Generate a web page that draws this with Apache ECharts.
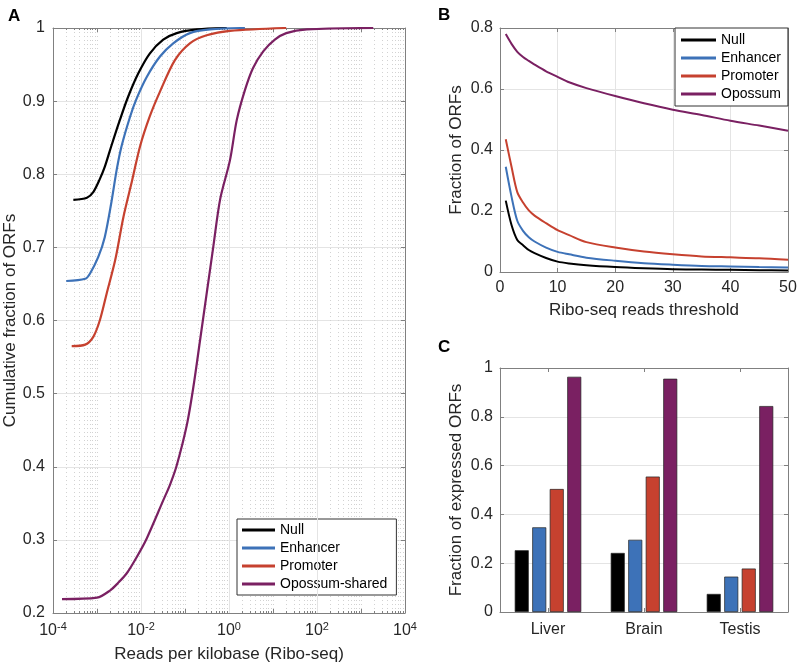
<!DOCTYPE html>
<html>
<head>
<meta charset="utf-8">
<script src="https://cdn.jsdelivr.net/npm/echarts@6/dist/echarts.min.js"></script>
<style>html,body{margin:0;padding:0;background:#fff}#c{width:800px;height:668px}</style>
</head>
<body>
<div id="c"></div>
<script>
// ---------- Panel A: cumulative distributions (Reads per kilobase, log x) ----------
const cdfNullX = [2.9e-4, 5.9e-4, 8.3e-4, 1.17e-3, 1.5e-3, 2.1e-3, 3.3e-3, 5.1e-3, 8.7e-3, 0.0158, 0.032, 0.065, 0.19, 0.89];
const cdfNullY = [0.765, 0.768, 0.776, 0.794, 0.810, 0.838, 0.874, 0.906, 0.938, 0.965, 0.984, 0.993, 0.998, 1.0];
const cdfEnhX = [2.0e-4, 5.4e-4, 6.9e-4, 1.07e-3, 1.5e-3, 2.1e-3, 2.8e-3, 3.6e-3, 5.6e-3, 7.9e-3, 0.0135, 0.027, 0.054, 0.129, 0.37, 2.3];
const cdfEnhY = [0.654, 0.657, 0.664, 0.687, 0.714, 0.760, 0.806, 0.838, 0.878, 0.903, 0.933, 0.961, 0.979, 0.993, 0.998, 1.0];
const cdfPromX = [2.66e-4, 5.4e-4, 8.3e-4, 1.17e-3, 1.66e-3, 2.6e-3, 4.0e-3, 6.2e-3, 9.5e-3, 0.0158, 0.027, 0.059, 0.129, 0.31, 1.05, 20];
const cdfPromY = [0.565, 0.567, 0.578, 0.601, 0.637, 0.683, 0.742, 0.790, 0.838, 0.879, 0.913, 0.956, 0.979, 0.990, 0.996, 1.0];
const cdfOpoX = [1.6e-4, 1.0e-3, 2.0e-3, 3.0e-3, 4.7e-3, 7.9e-3, 0.0135, 0.032, 0.046, 0.065, 0.11, 0.155, 0.22, 0.44, 0.63, 1.05, 1.5, 2.3, 3.5, 6.0, 11, 20, 59, 1900];
const cdfOpoY = [0.219, 0.221, 0.231, 0.241, 0.254, 0.276, 0.302, 0.354, 0.376, 0.402, 0.457, 0.509, 0.573, 0.701, 0.766, 0.819, 0.874, 0.915, 0.945, 0.968, 0.984, 0.993, 0.998, 1.0];
const legendA = ['Null', 'Enhancer', 'Promoter', 'Opossum-shared'];

// ---------- Panel B: fraction of ORFs vs reads threshold ----------
const thresholds = [1, 2, 3, 4, 5, 6, 8, 10, 12, 15, 20, 25, 30, 35, 40, 45, 50];
const fracNull = [0.234, 0.154, 0.105, 0.088, 0.072, 0.062, 0.046, 0.034, 0.028, 0.022, 0.016, 0.012, 0.009, 0.008, 0.007, 0.006, 0.005];
const fracEnh  = [0.345, 0.247, 0.168, 0.135, 0.114, 0.100, 0.080, 0.066, 0.058, 0.047, 0.037, 0.029, 0.024, 0.020, 0.018, 0.016, 0.015];
const fracProm = [0.435, 0.345, 0.262, 0.228, 0.202, 0.185, 0.160, 0.137, 0.121, 0.098, 0.080, 0.067, 0.058, 0.051, 0.048, 0.045, 0.040];
const fracOpo  = [0.780, 0.748, 0.722, 0.705, 0.692, 0.680, 0.658, 0.640, 0.622, 0.603, 0.577, 0.553, 0.532, 0.515, 0.496, 0.480, 0.463];
const legendB = ['Null', 'Enhancer', 'Promoter', 'Opossum'];

// ---------- Panel C: fraction of expressed ORFs per tissue ----------
const tissues = ['Liver', 'Brain', 'Testis'];
const exprNull = [0.253, 0.242, 0.074];
const exprEnh  = [0.347, 0.296, 0.145];
const exprProm = [0.504, 0.555, 0.178];
const exprOpo  = [0.964, 0.956, 0.844];

// ---------- styling ----------
const FONT = "'Liberation Sans', Arial, Helvetica, sans-serif";
const C_NULL = '#000000', C_ENH = '#3d72b8', C_PROM = '#c6412f', C_OPO = '#7a2062';
const AXIS = '#808080', TXT = '#262626', GRID = '#e4e4e4', MINOR = '#d2d2d2';

function zip(xs, ys) { return xs.map((x, i) => [x, ys[i]]); }
function fmtDec(v) { return (Math.abs(v) < 1e-9) ? '0' : (Math.abs(v - 1) < 1e-9 ? '1' : v.toFixed(1)); }

const tickLbl = { fontFamily: FONT, fontSize: 16, color: TXT };
const nameTxt = { fontFamily: FONT, fontSize: 17, color: TXT };

function boxAxis(extra) {
  return Object.assign({
    axisLine: { show: true, onZero: false, lineStyle: { color: AXIS, width: 1 } },
    axisTick: { show: true, inside: true, length: 4, lineStyle: { color: AXIS } },
    axisLabel: { show: false },
    splitLine: { show: false }
  }, extra);
}

const chart = echarts.init(document.getElementById('c'), null, { renderer: 'canvas' });

const lineA = (name, xs, ys, color) => ({
  type: 'line', name: name, xAxisIndex: 0, yAxisIndex: 0, data: zip(xs, ys),
  showSymbol: false, symbol: 'none', smooth: 0.3,
  lineStyle: { color: color, width: 2.2 }, itemStyle: { color: color }, z: 5
});
const lineB = (name, ys, color) => ({
  type: 'line', name: name, xAxisIndex: 2, yAxisIndex: 2, data: zip(thresholds, ys),
  showSymbol: false, symbol: 'none', smooth: 0.3,
  lineStyle: { color: color, width: 2 }, itemStyle: { color: color }, z: 5
});
const barC = (name, ys, color) => ({
  type: 'bar', name: name, xAxisIndex: 4, yAxisIndex: 4, data: ys, barWidth: 14, barGap: '25%',
  itemStyle: { color: color, borderColor: '#222', borderWidth: 0.7 }
});

const option = {
  animation: false,
  backgroundColor: '#fff',
  textStyle: { fontFamily: FONT },
  title: [
    { text: 'A', left: 3, top: 3, textStyle: { fontFamily: FONT, fontSize: 17, fontWeight: 'bold', color: '#000' } },
    { text: 'B', left: 433, top: 2, textStyle: { fontFamily: FONT, fontSize: 17, fontWeight: 'bold', color: '#000' } },
    { text: 'C', left: 433, top: 334, textStyle: { fontFamily: FONT, fontSize: 17, fontWeight: 'bold', color: '#000' } }
  ],
  grid: [
    { left: 53, top: 28, width: 352, height: 585, containLabel: false },
    { left: 500, top: 28, width: 288, height: 244, containLabel: false },
    { left: 500, top: 368, width: 288, height: 244, containLabel: false }
  ],
  legend: [
    {
      data: legendA, orient: 'vertical', left: 237, top: 519,
      itemWidth: 33, itemHeight: 3, icon: 'rect', itemGap: 2,
      padding: [3, 9, 3, 5], borderColor: '#333', borderWidth: 1, backgroundColor: '#fff',
      selectedMode: false,
      textStyle: { fontFamily: FONT, fontSize: 14, lineHeight: 16, color: '#000' }
    },
    {
      data: legendB, orient: 'vertical', left: 675, top: 28,
      itemWidth: 35, itemHeight: 3, icon: 'rect', itemGap: 2,
      padding: [4, 7, 4, 6], borderColor: '#333', borderWidth: 1, backgroundColor: '#fff',
      selectedMode: false,
      textStyle: { fontFamily: FONT, fontSize: 14, lineHeight: 16, color: '#000' }
    }
  ],
  xAxis: [
    {
      type: 'log', gridIndex: 0, min: 1e-4, max: 1e4, logBase: 10, splitNumber: 8,
      name: 'Reads per kilobase (Ribo-seq)', nameLocation: 'middle', nameGap: 33, nameTextStyle: nameTxt,
      axisLine: { show: true, onZero: false, lineStyle: { color: AXIS } },
      axisTick: { show: true, inside: true, length: 4, lineStyle: { color: AXIS } },
      minorTick: { show: true, splitNumber: 9, length: 2, lineStyle: { color: AXIS } },
      splitLine: { show: true, lineStyle: { color: MINOR, type: [1, 3], width: 1 } },
      minorSplitLine: { show: true, lineStyle: { color: MINOR, type: [1, 3], width: 1 } },
      axisLabel: {
        margin: 8,
        formatter: function (v) {
          const e = Math.round(Math.log10(v));
          if (e % 2 !== 0) return '';
          return '10{sup|' + e + '}';
        },
        rich: {
          sup: { fontFamily: FONT, fontSize: 11, color: TXT, verticalAlign: 'top', lineHeight: 10 }
        },
        fontFamily: FONT, fontSize: 16, color: TXT, lineHeight: 20
      }
    },
    boxAxis({ type: 'log', gridIndex: 0, position: 'top', min: 1e-4, max: 1e4, splitNumber: 8,
      minorTick: { show: true, splitNumber: 9, length: 2, lineStyle: { color: AXIS } } }),
    {
      type: 'value', gridIndex: 1, min: 0, max: 50, interval: 10,
      name: 'Ribo-seq reads threshold', nameLocation: 'middle', nameGap: 30, nameTextStyle: nameTxt,
      axisLine: { show: true, onZero: false, lineStyle: { color: AXIS } },
      axisTick: { show: true, inside: true, length: 4, lineStyle: { color: AXIS } },
      splitLine: { show: true, lineStyle: { color: GRID } },
      axisLabel: Object.assign({ margin: 8 }, tickLbl)
    },
    boxAxis({ type: 'value', gridIndex: 1, position: 'top', min: 0, max: 50, interval: 10 }),
    {
      type: 'category', gridIndex: 2, data: tissues,
      axisLine: { show: true, onZero: false, lineStyle: { color: AXIS } },
      axisTick: { show: true, inside: true, alignWithLabel: true, length: 4, lineStyle: { color: AXIS } },
      splitLine: { show: false },
      axisLabel: Object.assign({ margin: 10 }, tickLbl)
    },
    boxAxis({ type: 'category', gridIndex: 2, position: 'top', data: tissues,
      axisTick: { show: true, inside: true, alignWithLabel: true, length: 4, lineStyle: { color: AXIS } } })
  ],
  yAxis: [
    {
      type: 'value', gridIndex: 0, min: 0.2, max: 1, interval: 0.1,
      name: 'Cumulative fraction of ORFs', nameLocation: 'middle', nameGap: 28, nameTextStyle: nameTxt,
      axisLine: { show: true, onZero: false, lineStyle: { color: AXIS } },
      axisTick: { show: true, inside: true, length: 4, lineStyle: { color: AXIS } },
      splitLine: { show: true, lineStyle: { color: GRID } },
      axisLabel: Object.assign({ margin: 8, formatter: fmtDec }, tickLbl)
    },
    boxAxis({ type: 'value', gridIndex: 0, position: 'right', min: 0.2, max: 1, interval: 0.1 }),
    {
      type: 'value', gridIndex: 1, min: 0, max: 0.8, interval: 0.2,
      name: 'Fraction of ORFs', nameLocation: 'middle', nameGap: 35, nameTextStyle: nameTxt,
      axisLine: { show: true, onZero: false, lineStyle: { color: AXIS } },
      axisTick: { show: true, inside: true, length: 4, lineStyle: { color: AXIS } },
      splitLine: { show: true, lineStyle: { color: GRID } },
      axisLabel: Object.assign({ margin: 7, formatter: fmtDec }, tickLbl)
    },
    boxAxis({ type: 'value', gridIndex: 1, position: 'right', min: 0, max: 0.8, interval: 0.2 }),
    {
      type: 'value', gridIndex: 2, min: 0, max: 1, interval: 0.2,
      name: 'Fraction of expressed ORFs', nameLocation: 'middle', nameGap: 35, nameTextStyle: nameTxt,
      axisLine: { show: true, onZero: false, lineStyle: { color: AXIS } },
      axisTick: { show: true, inside: true, length: 4, lineStyle: { color: AXIS } },
      splitLine: { show: true, lineStyle: { color: GRID } },
      axisLabel: Object.assign({ margin: 7, formatter: fmtDec }, tickLbl)
    },
    boxAxis({ type: 'value', gridIndex: 2, position: 'right', min: 0, max: 1, interval: 0.2 })
  ],
  series: [
    // solid grid lines of the log axis at the labelled decades
    {
      type: 'line', name: '_grid', xAxisIndex: 0, yAxisIndex: 0, data: [], z: 1, silent: true,
      markLine: {
        silent: true, symbol: 'none', label: { show: false }, animation: false,
        lineStyle: { color: GRID, type: 'solid', width: 1 },
        data: [{ xAxis: 1e-2 }, { xAxis: 1 }, { xAxis: 1e2 }]
      }
    },
    lineA('Null', cdfNullX, cdfNullY, C_NULL),
    lineA('Enhancer', cdfEnhX, cdfEnhY, C_ENH),
    lineA('Promoter', cdfPromX, cdfPromY, C_PROM),
    lineA('Opossum-shared', cdfOpoX, cdfOpoY, C_OPO),

    lineB('Null', fracNull, C_NULL),
    lineB('Enhancer', fracEnh, C_ENH),
    lineB('Promoter', fracProm, C_PROM),
    lineB('Opossum', fracOpo, C_OPO),

    barC('Null', exprNull, C_NULL),
    barC('Enhancer', exprEnh, C_ENH),
    barC('Promoter', exprProm, C_PROM),
    barC('Opossum', exprOpo, C_OPO)
  ]
};
chart.setOption(option);
</script>
</body>
</html>
